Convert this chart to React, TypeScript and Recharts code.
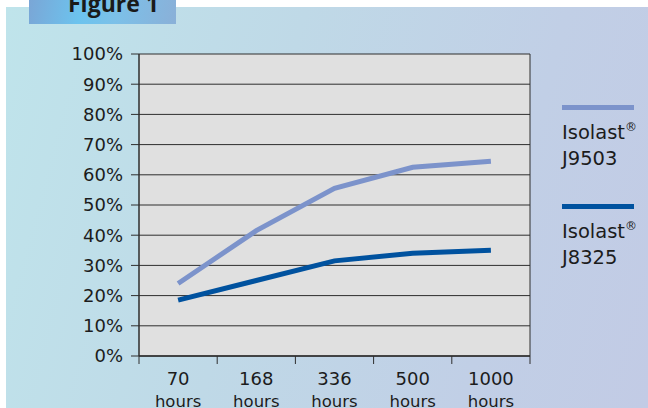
import { LineChart, Line, XAxis, YAxis, CartesianGrid } from 'recharts'

const hours = ['70', '168', '336', '500', '1000']
const j9503 = [24, 41.5, 55.5, 62.5, 64.5]
const j8325 = [18.5, 25, 31.5, 34, 35]
const yTicks = [0, 10, 20, 30, 40, 50, 60, 70, 80, 90, 100]

const seriesKeys = ['j9503', 'j8325']
const seriesBrand = ['Isolast', 'Isolast']
const seriesCodes = ['J9503', 'J8325']
const seriesColors = ['#7c93cb', '#00529f']

const data = hours.map((h, i) => ({ h, j9503: j9503[i], j8325: j8325[i] }))

const W = 648
const H = 408
const margin = { top: 54, right: 118, left: 79, bottom: 0 }
const yAxisWidth = 60
const xAxisHeight = 52
const plotWidth = W - margin.left - margin.right - yAxisWidth
const band = plotWidth / hours.length

const FONT = '"DejaVu Sans", "Open Sans", sans-serif'
const INK = '#1c1c1c'
const RULE = '#2e2e2e'

function HourTick(props: any) {
  const { x, y, payload, index } = props
  const half = band / 2
  const last = index === hours.length - 1
  return (
    <g>
      <line x1={x - half} x2={x - half} y1={y} y2={y + 8} stroke={RULE} strokeWidth={1} />
      {last && <line x1={x + half} x2={x + half} y1={y} y2={y + 8} stroke={RULE} strokeWidth={1} />}
      <text x={x} y={y + 29} textAnchor="middle" fontSize={18} fill={INK} fontFamily={FONT}>
        {payload.value}
      </text>
      <text x={x} y={y + 51} textAnchor="middle" fontSize={16.5} fill={INK} fontFamily={FONT}>
        hours
      </text>
    </g>
  )
}

function SideLegend() {
  return (
    <div style={{ position: 'absolute', left: 562, top: 105, fontFamily: FONT, color: INK }}>
      {seriesCodes.map((code, i) => (
        <div key={code} style={{ position: 'absolute', left: 0, top: i * 99, width: 86 }}>
          <div style={{ width: 72, height: 5, background: seriesColors[i] }} />
          <div style={{ fontSize: 19.5, lineHeight: '26px', marginTop: 10, whiteSpace: 'nowrap' }}>
            {seriesBrand[i]}
            <sup style={{ fontSize: 12, verticalAlign: 'top', lineHeight: '14px' }}>®</sup>
          </div>
          <div style={{ fontSize: 19.5, lineHeight: '26px' }}>{code}</div>
        </div>
      ))}
    </div>
  )
}

export default function App() {
  return (
    <div style={{ position: 'absolute', left: 0, top: 0, width: W, height: H, background: '#ffffff', overflow: 'hidden' }}>
      <div
        style={{
          position: 'absolute',
          left: 6,
          top: 7,
          right: 0,
          bottom: 0,
          background: 'linear-gradient(105deg, #bfe4eb 0%, #bfd9e7 40%, #c1cfe6 75%, #c2cbe5 100%)',
        }}
      />
      <div
        style={{
          position: 'absolute',
          left: 29,
          top: 0,
          width: 147,
          height: 24,
          background: 'linear-gradient(100deg, #7aa6d6 0%, #6cc3ee 35%, #7cc0e8 60%, #8ab0d8 100%)',
          overflow: 'hidden',
        }}
      >
        <div
          style={{
            position: 'absolute',
            left: 39,
            top: -12,
            fontFamily: '"Open Sans", sans-serif',
            fontWeight: 700,
            fontSize: 23,
            lineHeight: '30px',
            color: '#1a1a1a',
            whiteSpace: 'nowrap',
          }}
        >
          Figure 1
        </div>
      </div>
      <div style={{ position: 'absolute', left: 0, top: 0 }}>
        <LineChart width={W} height={H} data={data} margin={margin}>
          <CartesianGrid
            fill="#e0e0e0"
            stroke={RULE}
            strokeOpacity={1}
            horizontal={true}
            vertical={true}
            verticalCoordinatesGenerator={({ offset }: any) => [offset.left + offset.width]}
          />
          <XAxis
            dataKey="h"
            height={xAxisHeight}
            padding={{ left: band / 2, right: band / 2 }}
            axisLine={{ stroke: RULE, strokeWidth: 1.5 }}
            tickLine={false}
            tickSize={0}
            tickMargin={0}
            interval={0}
            tick={<HourTick />}
          />
          <YAxis
            width={yAxisWidth}
            domain={[0, 100]}
            ticks={yTicks}
            interval={0}
            tickFormatter={(v: number) => `${v}%`}
            axisLine={{ stroke: RULE, strokeWidth: 1.5 }}
            tickLine={{ stroke: RULE }}
            tickSize={8}
            tickMargin={8}
            tick={{ fill: INK, fontSize: 18, fontFamily: FONT }}
          />
          {seriesKeys.map((k, i) => (
            <Line
              key={k}
              type="linear"
              dataKey={k}
              stroke={seriesColors[i]}
              strokeWidth={5}
              dot={false}
              activeDot={false}
              isAnimationActive={false}
            />
          ))}
        </LineChart>
      </div>
      <SideLegend />
    </div>
  )
}
